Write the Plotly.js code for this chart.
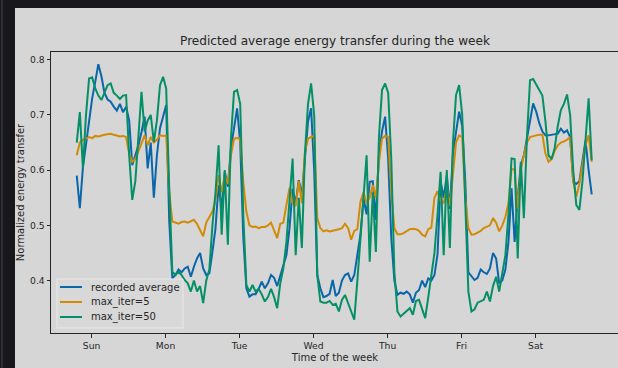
<!DOCTYPE html>
<html>
<head>
<meta charset="utf-8">
<script src="https://cdn.plot.ly/plotly-3.0.1.min.js"></script>
<style>
  html, body { margin: 0; padding: 0; background: #17171c; overflow: hidden; width: 618px; height: 368px; }
  #edge { position: absolute; left: 1px; top: 0; width: 2px; height: 368px; background: #2c2f38; }
  #chart { position: absolute; left: 15px; top: 8px; width: 607px; height: 360px; }
</style>
</head>
<body>
<div id="edge"></div>
<div id="chart"></div>
<script>
// Hours of the week, one sample per hour
const hours = Array.from({length: 168}, (_, i) => i);

// Day labels and where they sit on the hour axis
const dayLabels = ["Sun", "Mon", "Tue", "Wed", "Thu", "Fri", "Sat"];
const dayTicks = [4.8, 28.8, 52.8, 76.8, 100.8, 124.8, 148.8];

const recordedAverage = [
  0.590, 0.531, 0.605, 0.645, 0.685, 0.730, 0.760, 0.792, 0.770, 0.740,
  0.728, 0.724, 0.715, 0.708, 0.720, 0.705, 0.715, 0.690, 0.609, 0.627,
  0.645, 0.669, 0.697, 0.603, 0.650, 0.550, 0.627, 0.676, 0.700, 0.718,
  0.507, 0.404, 0.410, 0.420, 0.415, 0.422, 0.425, 0.407, 0.425, 0.440,
  0.450, 0.422, 0.410, 0.413, 0.452, 0.495, 0.573, 0.530, 0.597, 0.570,
  0.640, 0.676, 0.712, 0.650, 0.480, 0.386, 0.371, 0.375, 0.375, 0.385,
  0.398, 0.386, 0.395, 0.410, 0.405, 0.390, 0.410, 0.430, 0.446, 0.495,
  0.566, 0.540, 0.582, 0.555, 0.627, 0.688, 0.712, 0.600, 0.410, 0.386,
  0.370, 0.372, 0.376, 0.401, 0.372, 0.378, 0.400, 0.410, 0.413, 0.398,
  0.410, 0.446, 0.483, 0.549, 0.520, 0.579, 0.580, 0.510, 0.627, 0.670,
  0.697, 0.620, 0.477, 0.400, 0.374, 0.378, 0.376, 0.380, 0.375, 0.360,
  0.378, 0.383, 0.400, 0.388, 0.404, 0.400, 0.410, 0.448, 0.579, 0.550,
  0.590, 0.530, 0.630, 0.669, 0.706, 0.680, 0.580, 0.415, 0.408, 0.401,
  0.405, 0.420, 0.415, 0.412, 0.422, 0.450, 0.440, 0.395, 0.400, 0.420,
  0.470, 0.567, 0.470, 0.550, 0.609, 0.627, 0.657, 0.690, 0.721, 0.706,
  0.685, 0.670, 0.663, 0.663, 0.664, 0.665, 0.666, 0.675, 0.668, 0.672,
  0.660, 0.579, 0.575, 0.580, 0.620, 0.654, 0.600, 0.556
];

const maxIter5 = [
  0.627, 0.650, 0.655, 0.657, 0.660, 0.658, 0.662, 0.661, 0.663, 0.664,
  0.665, 0.666, 0.664, 0.662, 0.661, 0.662, 0.660, 0.630, 0.615, 0.620,
  0.635, 0.650, 0.663, 0.645, 0.660, 0.650, 0.655, 0.663, 0.662, 0.663,
  0.560, 0.507, 0.505, 0.503, 0.506, 0.507, 0.505, 0.507, 0.510, 0.503,
  0.490, 0.480, 0.505, 0.515, 0.525, 0.545, 0.591, 0.560, 0.590, 0.575,
  0.627, 0.657, 0.658, 0.657, 0.579, 0.525, 0.500, 0.497, 0.498, 0.495,
  0.497, 0.497, 0.500, 0.505, 0.490, 0.477, 0.503, 0.505, 0.537, 0.568,
  0.540, 0.535, 0.580, 0.540, 0.633, 0.657, 0.660, 0.662, 0.513, 0.495,
  0.489, 0.491, 0.489, 0.490, 0.492, 0.493, 0.495, 0.503, 0.495, 0.474,
  0.490, 0.493, 0.543, 0.560, 0.540, 0.550, 0.573, 0.550, 0.615, 0.657,
  0.662, 0.660, 0.560, 0.495, 0.484, 0.484, 0.486, 0.490, 0.493, 0.494,
  0.493, 0.490, 0.483, 0.480, 0.493, 0.496, 0.550, 0.562, 0.545, 0.540,
  0.570, 0.535, 0.600, 0.650, 0.663, 0.660, 0.550, 0.495, 0.483, 0.484,
  0.487, 0.490, 0.495, 0.497, 0.500, 0.513, 0.505, 0.489, 0.500, 0.515,
  0.540, 0.603, 0.600, 0.530, 0.600, 0.627, 0.650, 0.660, 0.662, 0.663,
  0.664, 0.664, 0.630, 0.615, 0.620, 0.635, 0.645, 0.650, 0.652, 0.655,
  0.660, 0.580, 0.552, 0.575, 0.610, 0.645, 0.663, 0.615
];

const maxIter50 = [
  0.650, 0.705, 0.603, 0.700, 0.766, 0.768, 0.748, 0.735, 0.727, 0.740,
  0.754, 0.757, 0.740, 0.735, 0.729, 0.735, 0.736, 0.627, 0.546, 0.580,
  0.657, 0.742, 0.670, 0.690, 0.700, 0.651, 0.690, 0.754, 0.769, 0.748,
  0.566, 0.416, 0.410, 0.416, 0.410, 0.401, 0.395, 0.380, 0.400, 0.380,
  0.390, 0.359, 0.400, 0.420, 0.500, 0.560, 0.645, 0.483, 0.600, 0.465,
  0.657, 0.742, 0.745, 0.720, 0.520, 0.392, 0.380, 0.392, 0.380, 0.385,
  0.375, 0.362, 0.370, 0.385, 0.370, 0.350, 0.395, 0.422, 0.470, 0.555,
  0.621, 0.446, 0.550, 0.459, 0.630, 0.720, 0.757, 0.700, 0.410, 0.362,
  0.360, 0.360, 0.363, 0.356, 0.358, 0.344, 0.365, 0.374, 0.360, 0.345,
  0.329, 0.400, 0.480, 0.560, 0.627, 0.434, 0.560, 0.452, 0.660, 0.745,
  0.757, 0.740, 0.620, 0.416, 0.344, 0.335, 0.340, 0.344, 0.350, 0.338,
  0.363, 0.365, 0.350, 0.332, 0.370, 0.408, 0.450, 0.520, 0.597, 0.446,
  0.600, 0.459, 0.650, 0.736, 0.754, 0.700, 0.550, 0.380, 0.344, 0.348,
  0.360, 0.362, 0.365, 0.380, 0.362, 0.390, 0.407, 0.380, 0.410, 0.446,
  0.520, 0.621, 0.620, 0.440, 0.615, 0.513, 0.660, 0.763, 0.765, 0.754,
  0.745, 0.735, 0.688, 0.627, 0.620, 0.640, 0.680, 0.709, 0.720, 0.737,
  0.700, 0.600, 0.537, 0.528, 0.580, 0.660, 0.730, 0.618
];

const seriesNames = ["recorded average", "max_iter=5", "max_iter=50"];
const seriesColors = ["#0a66aa", "#d38a06", "#058f66"];
const seriesValues = [recordedAverage, maxIter5, maxIter50];

const traces = seriesValues.map((vals, k) => ({
  x: hours,
  y: vals,
  type: "scatter",
  mode: "lines",
  name: seriesNames[k],
  line: {color: seriesColors[k], width: 2}
}));

const FONT = "DejaVu Sans, sans-serif";
const INK = "#262626";
const BG = "#d6d6d6";

const axisCommon = {
  showgrid: false,
  zeroline: false,
  showline: true,
  linecolor: INK,
  linewidth: 1,
  mirror: true,
  ticks: "outside",
  ticklen: 3.5,
  tickwidth: 1,
  tickcolor: INK,
  tickfont: {family: FONT, size: 9.2, color: INK}
};

// Legend panel in the lower-left corner of the axes: a framed box,
// a short line sample per series and its name.
const legendBox = {x0: 0.0106, x1: 0.2324, y0: 0.0178, y1: 0.1922};
const legendRows = [0.1637, 0.1103, 0.0569];
const sampleX = [0.0158, 0.0546];
const labelX = 0.0664;

const shapes = [{
  type: "rect", xref: "paper", yref: "paper", layer: "above",
  x0: legendBox.x0, x1: legendBox.x1, y0: legendBox.y0, y1: legendBox.y1,
  fillcolor: "#d9d9d9", opacity: 0.85,
  line: {color: "#ececec", width: 1}
}];
const annotations = [];
seriesNames.forEach((name, k) => {
  shapes.push({
    type: "line", xref: "paper", yref: "paper", layer: "above",
    x0: sampleX[0], x1: sampleX[1], y0: legendRows[k], y1: legendRows[k],
    line: {color: seriesColors[k], width: 2}
  });
  annotations.push({
    xref: "paper", yref: "paper", x: labelX, y: legendRows[k],
    xanchor: "left", yanchor: "middle", showarrow: false,
    text: name, font: {family: FONT, size: 10, color: INK}
  });
});

const layout = {
  width: 607,
  height: 360,
  margin: {l: 36, r: 3, t: 44, b: 35},
  paper_bgcolor: BG,
  plot_bgcolor: BG,
  font: {family: FONT, color: INK},
  title: {
    text: "Predicted average energy transfer during the week",
    font: {family: FONT, size: 12.1, color: INK},
    x: 0.5, xref: "paper",
    y: 0.91, yref: "container", yanchor: "middle"
  },
  xaxis: Object.assign({}, axisCommon, {
    range: [-8.35, 175.85],
    tickmode: "array",
    tickvals: dayTicks,
    ticktext: dayLabels,
    title: {text: "Time of the week", font: {family: FONT, size: 10, color: INK}, standoff: 4}
  }),
  yaxis: Object.assign({}, axisCommon, {
    range: [0.305, 0.814],
    tickmode: "array",
    tickvals: [0.4, 0.5, 0.6, 0.7, 0.8],
    ticktext: ["0.4", "0.5", "0.6", "0.7", "0.8"],
    title: {text: "Normalized energy transfer", font: {family: FONT, size: 10, color: INK}, standoff: 8}
  }),
  showlegend: false,
  shapes: shapes,
  annotations: annotations
};

Plotly.newPlot("chart", traces, layout, {staticPlot: true, displayModeBar: false});
</script>
</body>
</html>
